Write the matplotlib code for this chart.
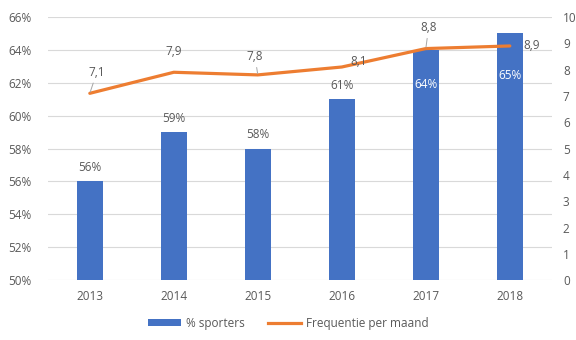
import numpy as np
import matplotlib.pyplot as plt
from matplotlib.patches import Patch
from matplotlib.lines import Line2D

plt.rcParams['font.family'] = ['Open Sans', 'DejaVu Sans']

# data
years = ['2013', '2014', '2015', '2016', '2017', '2018']
sporters = [56, 59, 58, 61, 64, 65]          # % sporters
freq = [7.1, 7.9, 7.8, 8.1, 8.8, 8.9]        # frequentie per maand
left_ticks = [50, 52, 54, 56, 58, 60, 62, 64, 66]
right_ticks = list(range(0, 11))

BLUE = '#4472C4'
ORANGE = '#ED7D31'
TXT = '#595959'
FS = 8.5

fig = plt.figure(figsize=(5.76, 3.4), dpi=100)
ax = fig.add_axes([0.083, 0.176, 0.875, 0.774])
x = np.arange(len(years))

ax.bar(x, sporters, width=0.31, color=BLUE, zorder=2)
ax.set_ylim(50, 66)
ax.set_xlim(-0.5, 5.5)
ax.set_yticks(left_ticks)
ax.set_yticklabels([f'{t}%' for t in left_ticks])
ax.set_xticks(x)
ax.set_xticklabels(years)
ax.grid(axis='y', color='#d9d9d9', linewidth=0.8, zorder=0)
for s in ax.spines.values():
    s.set_visible(False)
ax.tick_params(length=0, colors=TXT, labelsize=FS)
ax.tick_params(axis='x', pad=7)
ax.tick_params(axis='y', pad=12)

# bar labels: above bar, or inside (white) where the line crosses
inside_off = {4: -25, 5: -30}   # points below bar top
for i, v in enumerate(sporters):
    if i in inside_off:
        ax.annotate(f'{v}%', (i, v), xytext=(0, inside_off[i]), textcoords='offset points',
                    ha='center', va='center', color='white', fontsize=FS, zorder=4)
    else:
        ax.annotate(f'{v}%', (i, v), xytext=(0, 10), textcoords='offset points',
                    ha='center', va='center', color=TXT, fontsize=FS, zorder=4)

ax2 = ax.twinx()
ax2.plot(x, freq, color=ORANGE, linewidth=2.3, solid_capstyle='round', zorder=3)
ax2.set_ylim(0, 10)
ax2.set_yticks(right_ticks)
for s in ax2.spines.values():
    s.set_visible(False)
ax2.tick_params(length=0, colors=TXT, labelsize=FS, pad=8)

# line labels (offsets in points), leader lines where the original had them
offsets = [(5, 15), (0, 15), (-2, 13), (12, 4), (2, 15), (16, 0)]
leaders = [True, False, True, False, True, False]
for i, v in enumerate(freq):
    dx, dy = offsets[i]
    lbl = f'{v:.1f}'.replace('.', ',')
    arrow = None
    if leaders[i]:
        arrow = dict(arrowstyle='-', color='#a6a6a6', lw=0.7, shrinkA=1, shrinkB=1)
    ax2.annotate(lbl, (i, v), xytext=(dx, dy), textcoords='offset points',
                 ha='center', va='center', color=TXT, fontsize=FS, arrowprops=arrow)

handles = [Patch(facecolor=BLUE), Line2D([0], [0], color=ORANGE, linewidth=2.3)]
fig.legend(handles, ['% sporters', 'Frequentie per maand'], loc='center',
           bbox_to_anchor=(0.5, 0.05), ncol=2, frameon=False, fontsize=FS,
           handlelength=2.8, handleheight=0.6, handletextpad=0.4, columnspacing=2.0,
           labelcolor=TXT)

fig.savefig('out.png', dpi=100)
